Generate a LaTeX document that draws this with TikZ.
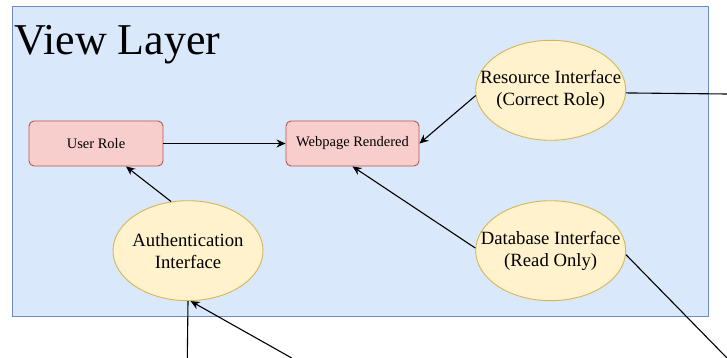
\documentclass[tikz,border=0pt]{standalone}
\usepackage{fontspec}
\setmainfont{Liberation Serif}
\usetikzlibrary{shapes.geometric,arrows.meta}
\definecolor{layerfill}{HTML}{DAE8FC}
\definecolor{layerdraw}{HTML}{6C8EBF}
\definecolor{boxfill}{HTML}{F8CECC}
\definecolor{boxdraw}{HTML}{B85450}
\definecolor{ellfill}{HTML}{FFF2CC}
\definecolor{elldraw}{HTML}{D6B656}
\begin{document}
\begin{tikzpicture}[x=1pt,y=-1pt,
  layerbox/.style={draw=layerdraw,fill=layerfill,line width=0.9pt,inner sep=0pt},
  rolebox/.style={draw=boxdraw,fill=boxfill,line width=0.9pt,rounded corners=5pt,
    minimum width=134pt,minimum height=45pt,inner sep=0pt,
    font=\fontsize{14.5}{17}\selectfont},
  iface/.style={ellipse,draw=elldraw,fill=ellfill,line width=0.9pt,
    minimum width=150pt,minimum height=100pt,inner xsep=-18pt,inner ysep=0pt,align=center,
    font=\fontsize{18.7}{22}\selectfont},
  conn/.style={draw=black,line width=1.1pt},
  arr/.style={conn,-{Stealth[length=9pt,width=8pt]}}
]
\useasboundingbox (0,0) rectangle (727,358);
\node[layerbox,minimum width=696pt,minimum height=310pt] (layer) at (360,161) {};
\node[anchor=base west,inner sep=0pt,font=\fontsize{44}{50}\selectfont] (title) at (14,55) {View Layer};

\node[rolebox] (userrole) at (96,143.5) {User Role};
\node[rolebox,minimum width=133pt] (webpage) at (352.5,143.5) {Webpage Rendered};

\node[iface] (resource) at (550.7,90.3) {Resource Interface\\(Correct Role)};
\node[iface] (auth) at (188,250.7) {Authentication\\Interface};
\node[iface] (database) at (550.7,250.7) {Database Interface\\(Read Only)};

\coordinate (resout) at (727,94);
\coordinate (dbout) at (727,358);
\coordinate (authin1) at (187.3,358);
\coordinate (authin2) at (291.7,358);

\draw[arr] (userrole.east) -- (webpage.west);
\draw[arr] (resource.184) -- (webpage.east);
\draw[arr] (auth.109) -- ([xshift=30pt]userrole.south);
\draw[arr] (database.178) -- (webpage.south);
\draw[conn] (resource.358) -- (resout);
\draw[conn] (database.357.5) -- (dbout);
\draw[conn] (authin1) -- (auth.south);
\draw[arr] (authin2) -- (auth.273);
\end{tikzpicture}
\end{document}
